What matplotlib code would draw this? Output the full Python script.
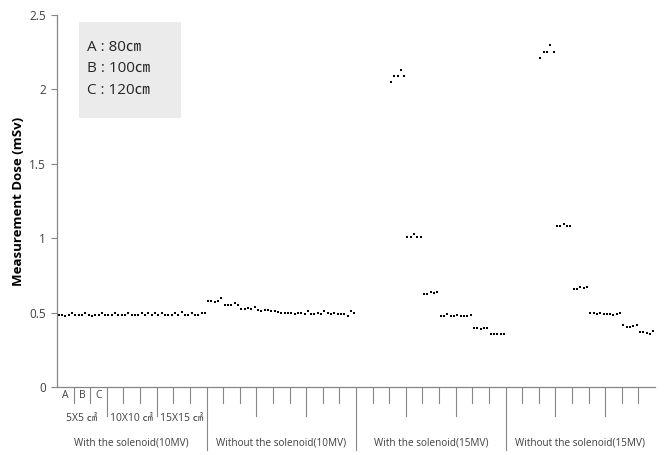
import numpy as np
import matplotlib
matplotlib.use('Agg')
import matplotlib.pyplot as plt
import matplotlib.transforms as mtransforms
from matplotlib.patches import Rectangle

plt.rcParams['font.family'] = ['Open Sans', 'Noto Sans CJK KR', 'DejaVu Sans']

# categories
groups = ['With the solenoid(10MV)', 'Without the solenoid(10MV)',
          'With the solenoid(15MV)', 'Without the solenoid(15MV)']
fields = ['5X5 ㎠', '10X10 ㎠', '15X15 ㎠']
distances = ['A', 'B', 'C']
legend_lines = ['A : 80㎝', 'B : 100㎝', 'C : 120㎝']

nan = np.nan
# 5 readings per distance, 3 distances per field, 3 fields per group
with_10mv = [0.485, 0.485, 0.48, 0.485, 0.495,  0.485, 0.485, 0.485, 0.495, 0.485,  0.48, 0.485, 0.485, 0.495, 0.485,
             0.485, 0.485, 0.495, 0.485, 0.485,  0.485, 0.495, 0.485, 0.485, 0.485,  0.495, 0.485, 0.495, 0.485, 0.495,
             0.485, 0.495, 0.485, 0.485, 0.485,  0.495, 0.485, 0.505, 0.485, 0.485,  0.495, 0.485, 0.485, 0.495, 0.495]
without_10mv = [0.58, 0.575, 0.57, 0.58, 0.60,  0.55, 0.55, 0.55, 0.565, 0.55,  0.525, 0.525, 0.53, 0.525, 0.535,
                0.52, 0.51, 0.515, 0.52, 0.51,  0.51, 0.505, 0.50, 0.50, 0.50,  0.50, 0.49, 0.50, 0.50, 0.49,
                0.51, 0.49, 0.49, 0.50, 0.49,  0.51, 0.50, 0.49, 0.50, 0.49,  0.49, 0.49, 0.48, 0.51, 0.50]
with_15mv = [nan, nan, nan, nan, nan,  nan, nan, nan, nan, nan,  2.05, 2.09, 2.09, 2.13, 2.09,
             1.005, 1.005, 1.025, 1.005, 1.005,  0.625, 0.625, 0.64, 0.63, 0.64,  0.48, 0.48, 0.49, 0.48, 0.475,
             0.485, 0.475, 0.475, 0.475, 0.485,  0.395, 0.395, 0.39, 0.395, 0.395,  0.355, 0.355, 0.355, 0.355, 0.355]
without_15mv = [nan, nan, nan, nan, nan,  nan, nan, nan, nan, nan,  2.21, 2.25, 2.25, 2.30, 2.25,
                1.08, 1.08, 1.095, 1.08, 1.08,  0.66, 0.66, 0.675, 0.665, 0.675,  0.50, 0.50, 0.49, 0.50, 0.49,
                0.49, 0.49, 0.485, 0.49, 0.50,  0.415, 0.405, 0.405, 0.41, 0.415,  0.37, 0.37, 0.36, 0.355, 0.375]

series = [with_10mv, without_10mv, with_15mv, without_15mv]
values = np.concatenate([np.array(s, dtype=float) for s in series])
n_per_cell = 5
n_cells = len(values) // n_per_cell
x = np.arange(len(values))

GRAY = '#868686'
TXT = '#404040'

fig = plt.figure(figsize=(6.69, 4.55), dpi=100)
ax = fig.add_axes([57/669, 68/455, 598/669, 372/455])

ax.plot(x, values, 's', color='black', ms=1.5, mew=0, clip_on=False)

ax.set_xlim(-0.5, len(values) - 0.5)
ax.set_ylim(0, 2.5)
ax.set_yticks([0, 0.5, 1, 1.5, 2, 2.5])
ax.set_yticklabels(['0', '0.5', '1', '1.5', '2', '2.5'])
ax.tick_params(axis='y', length=4, width=0.8, color=GRAY, labelsize=8.5, labelcolor=TXT, pad=4)
ax.set_xticks([])
for side in ('top', 'right'):
    ax.spines[side].set_visible(False)
for side in ('left', 'bottom'):
    ax.spines[side].set_color(GRAY)
    ax.spines[side].set_linewidth(0.9)
ax.set_ylabel('Measurement Dose (mSv)', fontsize=9.5, fontweight='bold', color='black', labelpad=3)

# multi-level category axis
tr = mtransforms.blended_transform_factory(ax.transData, ax.transAxes)
for c in range(1, n_cells):
    xb = c * n_per_cell - 0.5
    if c % 9 == 0:
        depth = -0.169
    elif c % 3 == 0:
        depth = -0.078
    else:
        depth = -0.043
    ax.plot([xb, xb], [0, depth], color=GRAY, lw=0.8, transform=tr, clip_on=False)

for i, d in enumerate(distances):
    ax.text(i * n_per_cell + 2, -0.022, d, transform=tr, ha='center', va='center',
            fontsize=7.5, color=TXT)
for j, f in enumerate(fields):
    ax.text(j * 15 + 7, -0.085, f, transform=tr, ha='center', va='center',
            fontsize=7.5, color=TXT)
for g, name in enumerate(groups):
    ax.text(g * 45 + 22, -0.15, name, transform=tr, ha='center', va='center',
            fontsize=7.2, color=TXT)

# distance key box
fig.patches.append(Rectangle((79/669, 337/455), 102/669, 96/455, transform=fig.transFigure,
                             facecolor='#ebebeb', edgecolor='none', zorder=0))
for k, line in enumerate(legend_lines):
    fig.text(87/669, (455 - (47 + k * 21.5))/455, line, fontsize=11, color='#262626',
             ha='left', va='center')

fig.savefig('out.png', dpi=100)
